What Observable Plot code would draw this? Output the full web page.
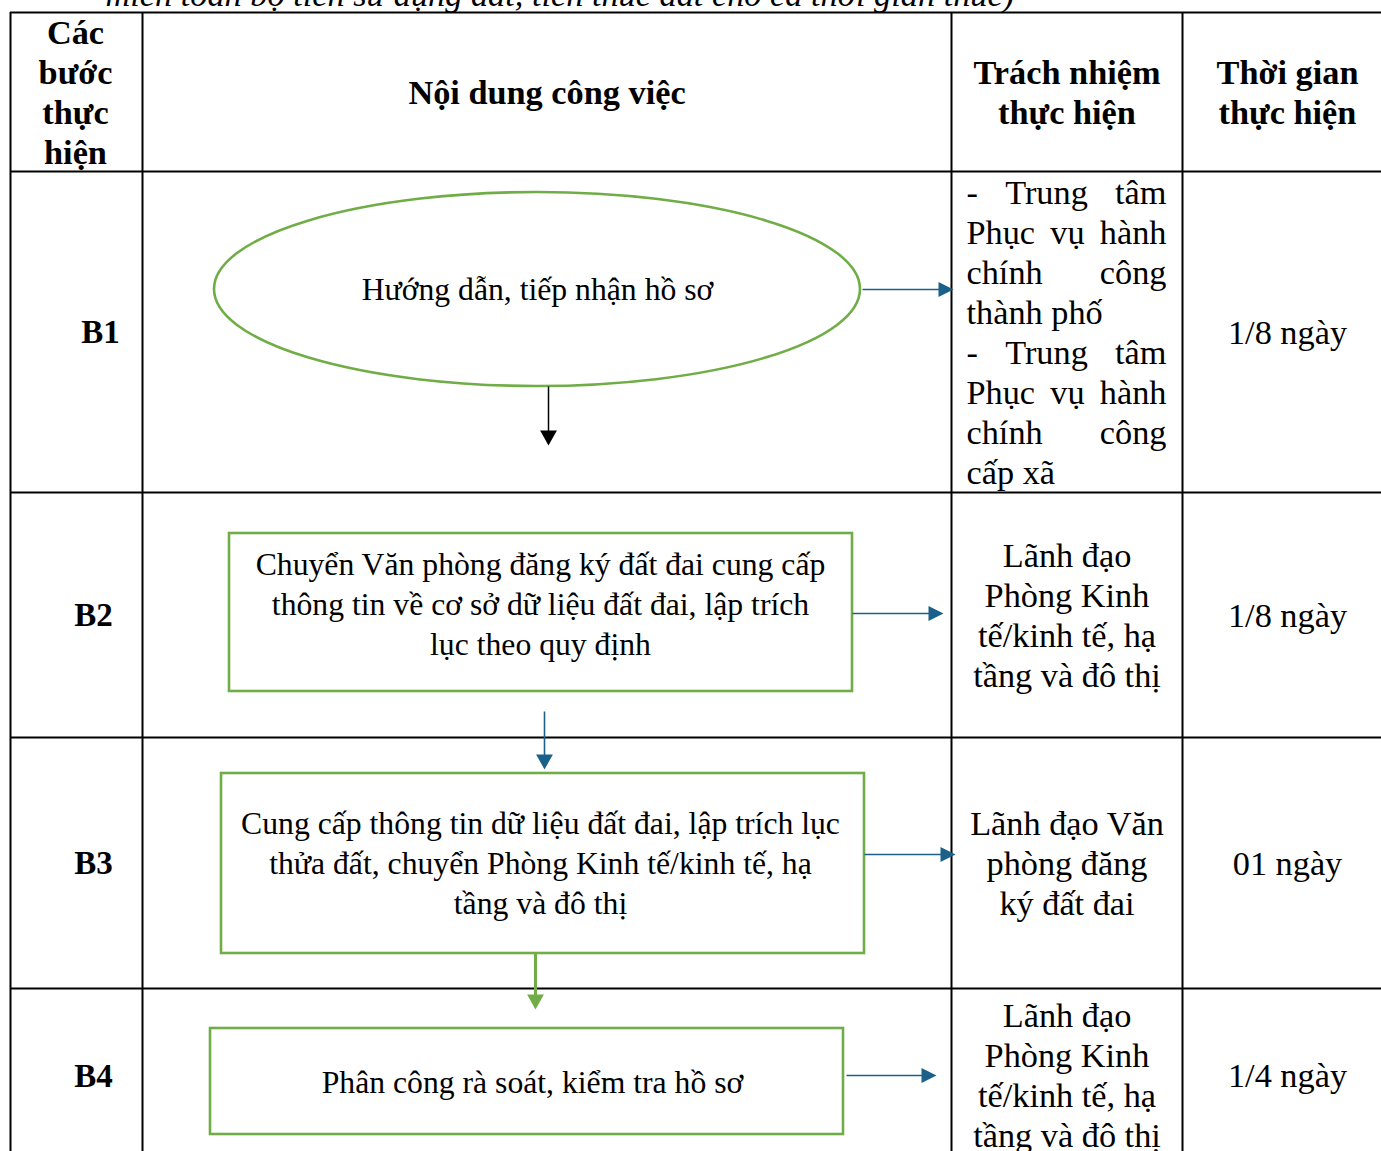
<!DOCTYPE html>
<html><head><meta charset="utf-8">
<script src="https://cdn.jsdelivr.net/npm/d3@7"></script>
<script src="https://cdn.jsdelivr.net/npm/@observablehq/plot@0.6"></script>
<style>html,body{margin:0;padding:0;background:#fff;overflow:hidden}#chart svg{display:block}</style>
</head><body><div id="chart"></div>
<script>
// ---------- data ----------
const captionText = "miễn toàn bộ tiền sử dụng đất, tiền thuê đất cho cả thời gian thuê)";
const headers = ["Các\nbước\nthực\nhiện", "Nội dung công việc", "Trách nhiệm\nthực hiện", "Thời gian\nthực hiện"];
const steps = ["B1", "B2", "B3", "B4"];
const tasks = [
  "Hướng dẫn, tiếp nhận hồ sơ",
  "Chuyển Văn phòng đăng ký đất đai cung cấp\nthông tin về cơ sở dữ liệu đất đai, lập trích\nlục theo quy định",
  "Cung cấp thông tin dữ liệu đất đai, lập trích lục\nthửa đất, chuyển Phòng Kinh tế/kinh tế, hạ\ntầng và đô thị",
  "Phân công rà soát, kiểm tra hồ sơ"
];
const owners = [
  ["- Trung tâm", "Phục vụ hành", "chính công", "thành phố", "- Trung tâm", "Phục vụ hành", "chính công", "cấp xã"],
  ["Lãnh đạo", "Phòng Kinh", "tế/kinh tế, hạ", "tầng và đô thị"],
  ["Lãnh đạo Văn", "phòng đăng", "ký đất đai"],
  ["Lãnh đạo", "Phòng Kinh", "tế/kinh tế, hạ", "tầng và đô thị"]
];
const durations = ["1/8 ngày", "1/8 ngày", "01 ngày", "1/4 ngày"];

// ---------- layout & style ----------
const W = 1381, H = 1151;
const FONT = "'Liberation Serif', 'Times New Roman', serif";
const FS = 34.3, FS_TASK = 31.7, FS_STEP = 33, LINE = 40, DY = -2;
const GREEN = "#70AD47", BLUE = "#1B6089";
const colEdges = [10, 142, 951, 1182, 1392];
const rowEdges = [12, 171, 492, 737, 988, 1162];
const stepX = [100, 93, 93, 93];
const ellipseShape = {cx: 537, cy: 289, rx: 323, ry: 97};
const boxShapes = [
  {x1: 229, x2: 852, y1: 533, y2: 691},
  {x1: 221, x2: 864, y1: 773, y2: 953},
  {x1: 210, x2: 843, y1: 1028, y2: 1134}
];
const taskTextPos = [[537, 289], [540, 604], [540, 863], [532, 1082]];
const rightArrows = [[862, 953, 289], [852, 943, 613], [864, 955, 854], [846, 936, 1075]];
const downArrows = [
  {x: 548, y1: 386, y2: 445, color: "#000", w: 1.5},
  {x: 544, y1: 711, y2: 769, color: BLUE, w: 1.6},
  {x: 535, y1: 953, y2: 1009, color: GREEN, w: 3}
];
const justifyFlags = [[1,1,1,0,1,1,1,0], null, null, null];
const justifyPad = [15, 16];
const HEAD = 7.5;

// ---------- helpers ----------
const ctx = document.createElement("canvas").getContext("2d");
function measure(s) { ctx.font = `${FS}px ${FONT}`; return ctx.measureText(s).width; }
const colCenter = i => (colEdges[i] + colEdges[i + 1]) / 2;
const rowCenter = i => (rowEdges[i] + rowEdges[i + 1]) / 2;

const triRight = {draw(c, size) { const r = Math.sqrt(size / Math.PI); c.moveTo(-r, -r); c.lineTo(r, 0); c.lineTo(-r, r); c.closePath(); }};
const triDown = {draw(c, size) { const r = Math.sqrt(size / Math.PI); c.moveTo(-r * 1.12, -r); c.lineTo(r * 1.12, -r); c.lineTo(0, r); c.closePath(); }};

function draw() {
  const vLines = colEdges.map(x => ({x, y1: rowEdges[0], y2: rowEdges[rowEdges.length - 1]}));
  const hLines = rowEdges.map(y => ({y, x1: colEdges[0], x2: colEdges[colEdges.length - 1]}));

  const headerData = headers.map((t, i) => ({t, x: colCenter(i) - (i === 0 ? 1 : 0), y: rowCenter(0) + 1 + DY}));
  const stepData = steps.map((t, i) => ({t, x: stepX[i], y: rowCenter(i + 1) + 1 + DY}));
  const taskData = tasks.map((t, i) => ({t, x: taskTextPos[i][0], y: taskTextPos[i][1] + DY}));
  const durData = durations.map((t, i) => ({t, x: colCenter(3), y: rowCenter(i + 1) + 1 + DY}));

  const ownerCentered = [];
  const ownerWords = [];
  owners.forEach((lines, i) => {
    const cy = rowCenter(i + 1) + 1 + DY;
    const flags = justifyFlags[i];
    if (!flags) { ownerCentered.push({t: lines.join("\n"), x: colCenter(2), y: cy}); return; }
    const x0 = colEdges[2] + justifyPad[0], x1 = colEdges[3] - justifyPad[1];
    lines.forEach((line, j) => {
      const y = cy + (j - (lines.length - 1) / 2) * LINE;
      if (!flags[j]) { ownerWords.push({t: line, x: x0, y}); return; }
      const words = line.split(" ");
      const widths = words.map(measure);
      const gap = (x1 - x0 - d3.sum(widths)) / (words.length - 1);
      let x = x0;
      words.forEach((w, k) => { ownerWords.push({t: w, x, y}); x += widths[k] + gap; });
    });
  });

  const rightShafts = rightArrows.map(([a, b, y]) => ({x1: a, x2: b - HEAD * 2 + 1, y1: y, y2: y}));
  const rightHeads = rightArrows.map(([a, b, y]) => ({x: b - HEAD, y}));
  const downShafts = downArrows.map(d => ({x1: d.x, x2: d.x, y1: d.y1, y2: d.y2 - HEAD * 2 + 1, color: d.color, w: d.w}));
  const downHeads = downArrows.map(d => ({x: d.x, y: d.y2 - HEAD, color: d.color}));

  const ellipseMark = (index, scales) => {
    const e = ellipseShape;
    return d3.create("svg:ellipse")
      .attr("cx", scales.x(e.cx)).attr("cy", scales.y(e.cy))
      .attr("rx", Math.abs(scales.x(e.cx + e.rx) - scales.x(e.cx)))
      .attr("ry", Math.abs(scales.y(e.cy + e.ry) - scales.y(e.cy)))
      .attr("fill", "none").attr("stroke", GREEN).attr("stroke-width", 2.6).node();
  };

  const textOpts = {text: "t", x: "x", y: "y", fontFamily: FONT, fontSize: FS, fill: "#000", lineAnchor: "middle", lineHeight: LINE / FS};
  const taskOpts = {...textOpts, fontSize: FS_TASK, lineHeight: LINE / FS_TASK};

  const chart = Plot.plot({
    width: W, height: H, margin: 0,
    x: {domain: [0, W], range: [0, W], axis: null},
    y: {domain: [0, H], range: [0, H], axis: null},
    style: {background: "#fff", fontFamily: FONT},
    marks: [
      Plot.text([{t: captionText, x: 105, y: -7}], {...textOpts, textAnchor: "start", fontStyle: "italic"}),
      Plot.ruleX(vLines, {x: "x", y1: "y1", y2: "y2", stroke: "#000", strokeWidth: 2}),
      Plot.ruleY(hLines, {y: "y", x1: "x1", x2: "x2", stroke: "#000", strokeWidth: 2}),
      ellipseMark,
      Plot.rect(boxShapes, {x1: "x1", x2: "x2", y1: "y1", y2: "y2", fill: "none", stroke: GREEN, strokeWidth: 2.6}),
      Plot.link(rightShafts, {x1: "x1", x2: "x2", y1: "y1", y2: "y2", stroke: BLUE, strokeWidth: 1.5}),
      Plot.dot(rightHeads, {x: "x", y: "y", r: HEAD, symbol: triRight, fill: BLUE, stroke: "none"}),
      Plot.link(downShafts, {x1: "x1", x2: "x2", y1: "y1", y2: "y2", stroke: d => d.color, strokeWidth: d => d.w}),
      Plot.dot(downHeads, {x: "x", y: "y", r: HEAD, symbol: triDown, fill: d => d.color, stroke: "none"}),
      Plot.text(headerData, {...textOpts, fontWeight: "bold"}),
      Plot.text(stepData, {...textOpts, fontSize: FS_STEP, fontWeight: "bold"}),
      Plot.text(taskData, taskOpts),
      Plot.text(ownerCentered, textOpts),
      Plot.text(ownerWords, {...textOpts, textAnchor: "start"}),
      Plot.text(durData, textOpts)
    ]
  });
  document.getElementById("chart").append(chart);
}

if (document.fonts && document.fonts.load) {
  Promise.all([document.fonts.load(`${FS}px ${FONT}`), document.fonts.load(`bold ${FS}px ${FONT}`)]).then(draw, draw);
} else draw();
</script>
</body></html>
